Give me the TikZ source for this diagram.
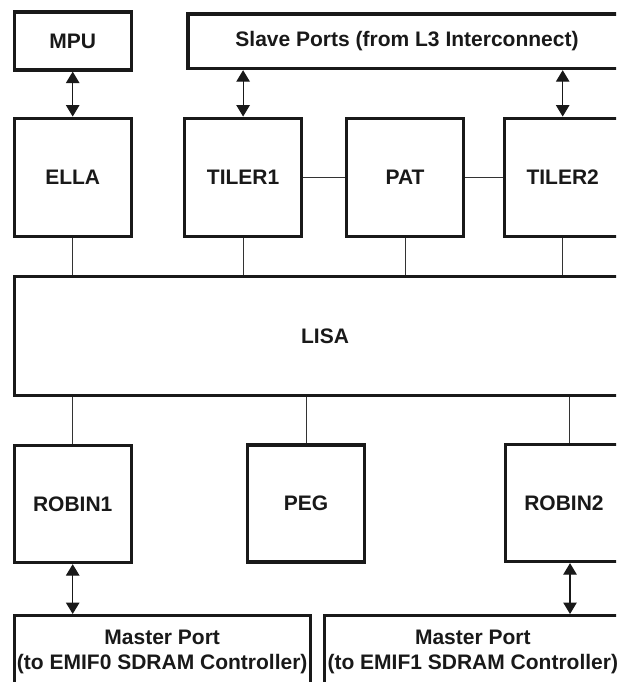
\documentclass[tikz,border=0pt]{standalone}
\usepackage{fontspec}
\setmainfont{Liberation Sans}
\usetikzlibrary{arrows.meta, calc}

\begin{document}
\begin{tikzpicture}[
  x=1pt, y=-1pt,
  font=\fontsize{21}{25}\selectfont\bfseries,
  every node/.style={align=center, text=black!90},
  blk/.style={rectangle, draw=black!90, line width=3.3pt, minimum width=117pt,
              minimum height=118pt, inner sep=0pt},
  port/.style={blk, minimum width=296pt, minimum height=72pt, anchor=north},
  arr/.style={{Triangle[length=11.5pt, width=13.5pt]}-{Triangle[length=11.5pt, width=13.5pt]},
              line width=1.2pt, draw=black!90},
  wire/.style={line width=1pt, draw=black!80},
]
\useasboundingbox (0,0) rectangle (616,682);
\clip (0,0) rectangle (616,682);

% ---------------------------------------------------------------- top row
\node[blk, minimum height=58pt] (mpu)   at (72.7,41)   {MPU};
\node[blk, minimum width=438pt, minimum height=54.5pt]
                                (slave) at (407,41.3)  {Slave Ports (from L3 Interconnect)};

\node[blk] (ella)   at (72.7,177.2)  {ELLA};
\node[blk] (tiler1) at (243.1,177.2) {TILER1};
\node[blk] (pat)    at (405,177.2)   {PAT};
\node[blk] (tiler2) at (562.7,177.2) {TILER2};

% ---------------------------------------------------------------- bus
\node[blk, minimum width=621.6pt, minimum height=119pt] (lisa) at (325,336) {LISA};

% ---------------------------------------------------------------- bottom row
\node[blk, minimum height=117pt] (robin1) at (72.7,504) {ROBIN1};
\node[blk, minimum height=117pt] (peg)    at (306,503.5) {PEG};
\node[blk, minimum height=117pt] (robin2) at (564,503)  {ROBIN2};

\node[port] (mport0) at (162.2,614) {Master Port\\(to EMIF0 SDRAM Controller)};
\node[port] (mport1) at (472.8,614) {Master Port\\(to EMIF1 SDRAM Controller)};

% ---------------------------------------------------------------- arrows
\draw[arr] (mpu) -- (ella);
\draw[arr] (tiler1.north) -- (tiler1.north |- slave.south);
\draw[arr] (tiler2.north) -- (tiler2.north |- slave.south);
\draw[arr] (robin1.south) -- (robin1.south |- mport0.north);
\draw[arr] ([xshift=6pt]robin2.south) -- ([xshift=6pt]robin2.south |- mport1.north);

% ---------------------------------------------------------------- wires
\draw[wire] (tiler1) -- (pat);
\draw[wire] (pat) -- (tiler2);
\foreach \n in {ella, tiler1, pat, tiler2}
  \draw[wire] (\n.south) -- (\n.south |- lisa.north);
\foreach \n in {robin1, peg}
  \draw[wire] (\n.north) -- (\n.north |- lisa.south);
\draw[wire] ([xshift=5.5pt]robin2.north) -- ([xshift=5.5pt]robin2.north |- lisa.south);

\end{tikzpicture}
\end{document}
